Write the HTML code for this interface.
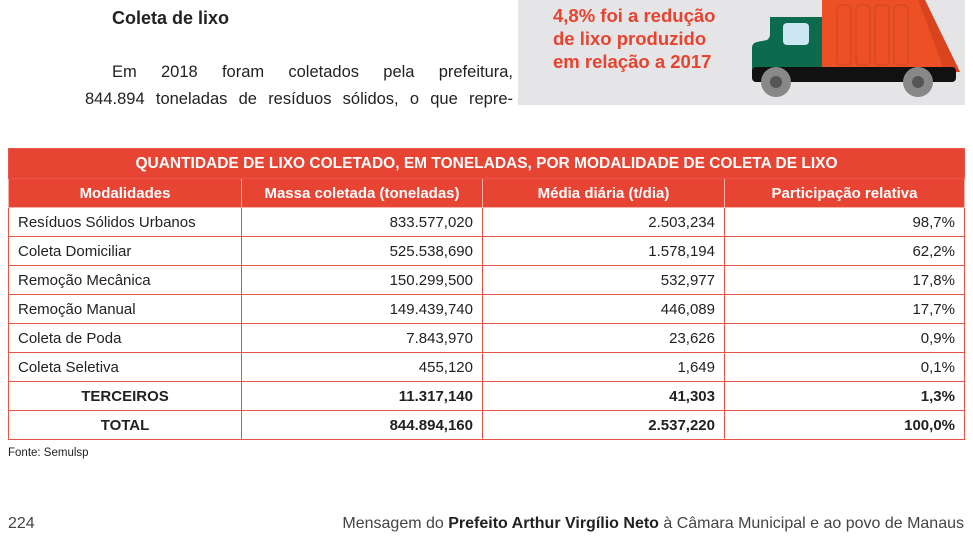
<!DOCTYPE html>
<html><head><meta charset="utf-8"><style>
body{margin:0;width:973px;height:545px;background:#fff;position:relative;overflow:hidden;font-family:"Liberation Sans",sans-serif;color:#222}
.a{position:absolute;white-space:nowrap}
.j{position:absolute;font-size:16.5px;text-align:justify;text-align-last:justify;white-space:normal}
table{position:absolute;left:8px;top:148px;border-collapse:collapse;width:957px;font-size:15px;table-layout:fixed}
td{border:1.5px solid #e8564a;height:29px;padding:0 9px;box-sizing:border-box;white-space:nowrap}
tr.t td{background:#e84434;color:#fff;font-weight:bold;text-align:center;height:30px;font-size:15.5px}
tr.h td{background:#e84434;color:#fff;font-weight:bold;text-align:center;border-color:#f6b0a8}
td.r{text-align:right}
tr.b td{font-weight:bold}
tr.b td:first-child{text-align:center}
</style></head><body>
<div class="a" style="left:112px;top:8px;font-weight:bold;font-size:18px">Coleta de lixo</div>
<div class="j" style="left:112px;top:63px;width:401px">Em 2018 foram coletados pela prefeitura,</div>
<div class="j" style="left:85px;top:90px;width:428px">844.894 toneladas de resíduos sólidos, o que repre-</div>
<div class="a" style="left:518px;top:0;width:447px;height:105px;background:#e5e5e7"></div>
<div class="a" style="left:553px;top:4px;color:#e8432f;font-size:18.5px;font-weight:bold;line-height:23px">4,8% foi a redução<br>de lixo produzido<br>em relação a 2017</div>
<svg class="a" style="left:740px;top:0" width="230" height="105">
<polygon points="82,0 185,0 220,72 82,72" fill="#ee5026"/>
<polygon points="178,0 185,0 220,72 205,72" fill="#d9441e"/>
<rect x="97" y="5" width="14" height="60" rx="4" fill="none" stroke="#dc4a22" stroke-width="2"/>
<rect x="116" y="5" width="14" height="60" rx="4" fill="none" stroke="#dc4a22" stroke-width="2"/>
<rect x="135" y="5" width="14" height="60" rx="4" fill="none" stroke="#dc4a22" stroke-width="2"/>
<rect x="154" y="5" width="14" height="60" rx="4" fill="none" stroke="#dc4a22" stroke-width="2"/>
<path d="M30,17 h52 v55 h-70 v-24 q0 -5 5 -6 l10 -2 q3 -2 3 -6 z" fill="#0c6b4f"/>
<rect x="43" y="23" width="26" height="22" rx="4" fill="#cde6f4"/>
<rect x="12" y="67" width="204" height="15" rx="4" fill="#111"/>
<circle cx="36" cy="82" r="15" fill="#888"/><circle cx="36" cy="82" r="6" fill="#555"/>
<circle cx="178" cy="82" r="15" fill="#888"/><circle cx="178" cy="82" r="6" fill="#555"/>
</svg>
<table>
<colgroup><col style="width:233px"><col style="width:241px"><col style="width:242px"><col></colgroup>
<tr class="t"><td colspan="4">QUANTIDADE DE LIXO COLETADO, EM TONELADAS, POR MODALIDADE DE COLETA DE LIXO</td></tr>
<tr class="h"><td>Modalidades</td><td>Massa coletada (toneladas)</td><td>Média diária (t/dia)</td><td>Participação relativa</td></tr>
<tr><td>Resíduos Sólidos Urbanos</td><td class="r">833.577,020</td><td class="r">2.503,234</td><td class="r">98,7%</td></tr>
<tr><td>Coleta Domiciliar</td><td class="r">525.538,690</td><td class="r">1.578,194</td><td class="r">62,2%</td></tr>
<tr><td>Remoção Mecânica</td><td class="r">150.299,500</td><td class="r">532,977</td><td class="r">17,8%</td></tr>
<tr><td>Remoção Manual</td><td class="r">149.439,740</td><td class="r">446,089</td><td class="r">17,7%</td></tr>
<tr><td>Coleta de Poda</td><td class="r">7.843,970</td><td class="r">23,626</td><td class="r">0,9%</td></tr>
<tr><td>Coleta Seletiva</td><td class="r">455,120</td><td class="r">1,649</td><td class="r">0,1%</td></tr>
<tr class="b"><td>TERCEIROS</td><td class="r">11.317,140</td><td class="r">41,303</td><td class="r">1,3%</td></tr>
<tr class="b"><td>TOTAL</td><td class="r">844.894,160</td><td class="r">2.537,220</td><td class="r">100,0%</td></tr>
</table>
<div class="a" style="left:8px;top:447px;font-size:11.5px">Fonte: Semulsp</div>
<div class="a" style="left:8px;top:515px;font-size:16px;color:#444">224</div>
<div class="a" style="right:9px;top:515px;font-size:16px;color:#444">Mensagem do <b style="color:#222">Prefeito Arthur Virgílio Neto</b> à Câmara Municipal e ao povo de Manaus</div>
</body></html>
